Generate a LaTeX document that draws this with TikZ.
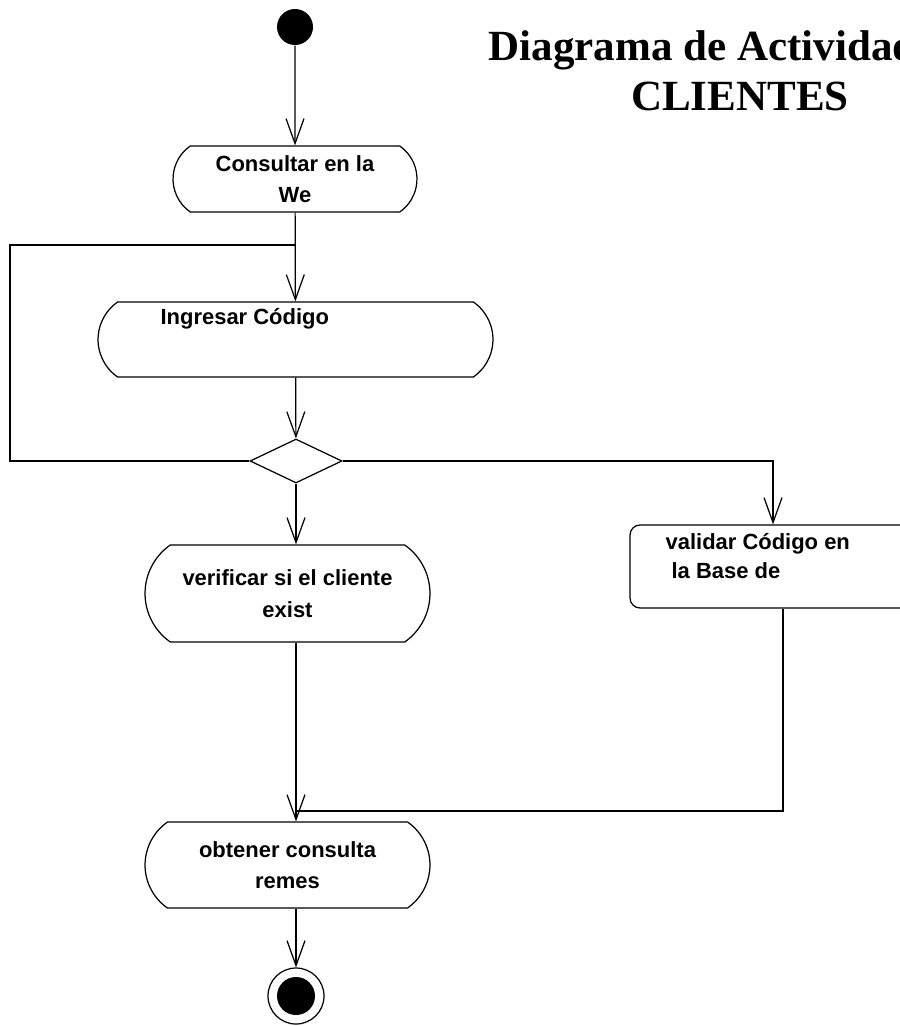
\documentclass[tikz,border=0pt]{standalone}
\usepackage{fontspec}
\setmainfont{Liberation Sans}
\newfontfamily\titlefont{Liberation Serif}
\usetikzlibrary{arrows.meta,shapes.geometric,shapes.misc,positioning}

\newcommand{\actfont}{\bfseries\fontsize{12.5}{18}\selectfont}

\tikzset{
  activ/.style={draw=black, rounded rectangle, rounded rectangle arc length=110,
    inner sep=0pt, align=center, font=\actfont},
  actbox/.style={draw=black, rectangle, rounded corners=0.2cm, inner sep=0pt},
  acttxt/.style={inner sep=0pt, align=left, font=\bfseries\fontsize{12.5}{16}\selectfont},
  titletxt/.style={inner sep=0pt, font=\titlefont\bfseries\fontsize{24.5}{28}\selectfont},
  flow/.style={-{Straight Barb[length=5mm,width=3.6mm]}},
}

\begin{document}
\begin{tikzpicture}[x=0.02cm,y=-0.02cm,line width=0.7pt]
\useasboundingbox (0,0) rectangle (899,1026);

%title
\node[titletxt, anchor=base west] (title) at (488,61) {Diagrama de Actividad};
\node[titletxt, anchor=base] (titleb) at (740,111) {CLIENTES};

%start and end
\node[circle, fill=black, minimum size=0.72cm, inner sep=0pt] (start) at (295,27) {};
\node[circle, draw=black, minimum size=1.12cm, inner sep=0pt] (stop) at (296,996) {};
\node[circle, fill=black, minimum size=0.76cm, inner sep=0pt] (stopdot) at (stop) {};

%activities
\node[activ, minimum width=4.88cm, minimum height=1.32cm] (consultar) at (295,179) {Consultar en la\\We};
\node[activ, minimum width=7.9cm, minimum height=1.5cm] (ingresar) at (295.5,339.5) {};
\node[acttxt, anchor=base west] (ingresartxt) at (160,325) {Ingresar Código};
\node[diamond, draw=black, minimum width=1.84cm, minimum height=0.88cm, inner sep=0pt] (dec) at (296,461) {};
\node[activ, minimum width=5.7cm, minimum height=1.94cm] (verificar) at (287.5,593.5) {verificar si el cliente\\exist};
\node[actbox, minimum width=5.72cm, minimum height=1.66cm] (validar) at (773,566.5) {};
\node[acttxt, anchor=west] (validartxt) at (665,556) {validar Código en\\\hspace*{0.12cm}la Base de};
\node[activ, minimum width=5.7cm, minimum height=1.72cm] (obtener) at (287.5,865) {obtener consulta\\remes};

\coordinate (loopc) at (10,245);
\coordinate (loopin) at (295,245);
\coordinate (join) at (296,811);

%edges
\draw[flow] (start) -- (consultar);
\draw[flow] (consultar) -- (ingresar);
\draw[flow] (ingresar) -- (dec);
\draw (dec.west) -| (loopc) -- (loopin);
\draw[flow] (dec.east) -| (validar.north);
\draw[flow] (dec.south) -- (dec.south |- verificar.north);
\draw[flow] (verificar.south -| dec.south) -- (obtener.north -| dec.south);
\draw ([xshift=0.2cm]validar.south) |- (join);
\draw[flow] (obtener.south -| stop.north) -- (stop);
\end{tikzpicture}
\end{document}
